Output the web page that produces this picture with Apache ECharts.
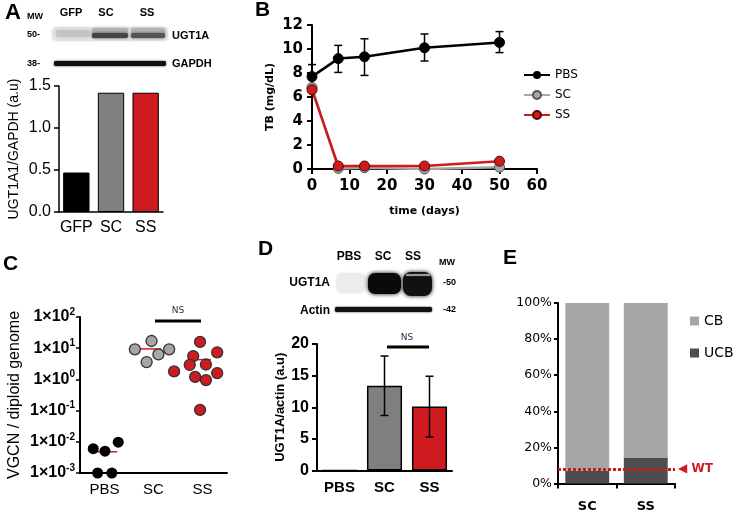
<!DOCTYPE html>
<html>
<head>
<meta charset="utf-8">
<script src="https://cdn.jsdelivr.net/npm/echarts@6/dist/echarts.min.js"></script>
<style>
html, body { margin: 0; padding: 0; background: #fff; }
#main { width: 736px; height: 514px; }
</style>
</head>
<body>
<div id="main"></div>
<script>
// A - western blot quantification
var aCats = ['GFP', 'SC', 'SS'];
var aRatio = [0.47, 1.42, 1.42];

// B - total bilirubin over time
var bDays = [0, 7, 14, 30, 50];
var bPBS = [7.7, 9.2, 9.35, 10.1, 10.55];
var bPBSLow = [6.7, 8.05, 7.8, 9.0, 9.7];
var bPBSHigh = [8.7, 10.3, 10.85, 11.25, 11.45];
var bSC = [6.8, 0.05, 0.1, 0.0, 0.15];
var bSS = [6.6, 0.25, 0.25, 0.25, 0.65];

// C - vector genome copies (x = jitter position, 0..3)
var cCats = ['PBS', 'SC', 'SS'];
var cPBS = [0.006, 0.005, 0.0097, 0.001, 0.001];
var cPBSx = [0.27, 0.51, 0.78, 0.36, 0.65];
var cSC = [9.2, 17, 6.3, 9.2, 3.6];
var cSCx = [1.12, 1.46, 1.60, 1.82, 1.36];
var cSS = [16, 7.4, 5.6, 2.9, 3.0, 1.8, 1.2, 1.6, 0.95, 0.105];
var cSSx = [2.45, 2.80, 2.31, 2.24, 2.57, 1.92, 2.35, 2.80, 2.57, 2.45];
var cMedian = [0.0048, 9.5, 4.3];
var cMedianX = [0.55, 1.45, 2.46];

// D - UGT1A/actin
var dCats = ['PBS', 'SC', 'SS'];
var dRatio = [0, 13.4, 10.1];
var dErr = [0, 4.7, 4.8];

// E - bilirubin fractions
var eCats = ['SC', 'SS'];
var eUCB = [7, 14.4];
var eCB = [93, 85.6];
var eWT = 8.1;

var RED = '#cf1b20';
var GREY = '#7f7f7f';
var ARIAL = 'Liberation Sans';
var DEJA = 'DejaVu Sans';

var myChart = echarts.init(document.getElementById('main'));

function axisLineStyle(w) {
    return { show: true, lineStyle: { color: '#000', width: w } };
}

// vertical error bar with caps
function errorBar(params, api) {
    var x = api.value(0);
    var top = api.coord([x, api.value(2)]);
    var bot = api.coord([x, api.value(1)]);
    var w = 4;
    var st = { stroke: '#000', lineWidth: 1.5 };
    return {
        type: 'group',
        children: [
            { type: 'line', shape: { x1: top[0], y1: top[1], x2: bot[0], y2: bot[1] }, style: st },
            { type: 'line', shape: { x1: top[0] - w, y1: top[1], x2: top[0] + w, y2: top[1] }, style: st },
            { type: 'line', shape: { x1: bot[0] - w, y1: bot[1], x2: bot[0] + w, y2: bot[1] }, style: st }
        ]
    };
}

// median line in panel C
var medianHalf = 0.21;
function medianLine(params, api) {
    var x = api.value(0), v = api.value(1);
    var p1 = api.coord([x - medianHalf, v]);
    var p2 = api.coord([x + medianHalf, v]);
    return {
        type: 'line',
        shape: { x1: p1[0], y1: p1[1], x2: p2[0], y2: p2[1] },
        style: { stroke: RED, lineWidth: 1.5 }
    };
}

function band(x, y, w, h, color, blur) {
    return {
        type: 'rect',
        shape: { x: x, y: y, width: w, height: h, r: h / 3 },
        style: { fill: color, shadowBlur: blur, shadowColor: color }
    };
}
function txt(x, y, s, size, align, weight, color) {
    return {
        type: 'text', x: x, y: y,
        style: {
            text: s, fontSize: size, fontFamily: ARIAL, fontWeight: weight || 'bold',
            fill: color || '#000', align: align || 'center', verticalAlign: 'middle'
        }
    };
}

var option = {
    animation: false,
    backgroundColor: '#fff',
    grid: [
        { left: 59, top: 86, width: 104, height: 126 },
        { left: 312, top: 25, width: 225, height: 144 },
        { left: 80, top: 317, width: 147, height: 156 },
        { left: 317, top: 344, width: 135, height: 126.5 },
        { left: 558, top: 303, width: 117, height: 180.5 }
    ],
    legend: [
        {
            data: ['PBS', 'SC', 'SS'],
            orient: 'vertical', left: 523, top: 69, padding: 0,
            itemWidth: 26, itemHeight: 10, itemGap: 8,
            textStyle: { fontFamily: DEJA, fontSize: 12, color: '#000' }
        },
        {
            data: ['CB', 'UCB'],
            orient: 'vertical', left: 690, top: 314, padding: 0,
            icon: 'rect', itemWidth: 9, itemHeight: 9, itemGap: 18,
            textStyle: { fontFamily: DEJA, fontSize: 14, color: '#000' }
        }
    ],
    xAxis: [
        {   // A
            gridIndex: 0, type: 'category', data: aCats,
            axisLine: axisLineStyle(1.5), axisTick: { show: false },
            axisLabel: { color: '#000', fontSize: 16, fontFamily: ARIAL, margin: 8, interval: 0 }
        },
        {   // B
            gridIndex: 1, type: 'value', min: 0, max: 60, interval: 10,
            axisLine: axisLineStyle(2),
            axisTick: { show: true, length: 5, lineStyle: { color: '#000', width: 2 } },
            splitLine: { show: false },
            axisLabel: { color: '#000', fontSize: 15, fontFamily: DEJA, fontWeight: 'bold', margin: 10 },
            name: 'time (days)', nameLocation: 'middle', nameGap: 37,
            nameTextStyle: { fontSize: 11, fontFamily: DEJA, fontWeight: 'bold', color: '#000' }
        },
        {   // C categories
            gridIndex: 2, type: 'category', data: cCats,
            axisLine: axisLineStyle(2), axisTick: { show: false },
            axisLabel: { color: '#000', fontSize: 15, fontFamily: ARIAL, margin: 9, interval: 0 }
        },
        {   // C jitter axis
            gridIndex: 2, type: 'value', min: 0, max: 3, show: false
        },
        {   // D
            gridIndex: 3, type: 'category', data: dCats,
            axisLine: axisLineStyle(2), axisTick: { show: false },
            axisLabel: { color: '#000', fontSize: 15, fontFamily: ARIAL, fontWeight: 'bold', margin: 10, interval: 0 }
        },
        {   // E
            gridIndex: 4, type: 'category', data: eCats,
            axisLine: axisLineStyle(2),
            axisTick: { show: true, length: 5, lineStyle: { color: '#000', width: 2 } },
            axisLabel: { color: '#000', fontSize: 13, fontFamily: DEJA, fontWeight: 'bold', margin: 17, interval: 0 }
        }
    ],
    yAxis: [
        {   // A
            gridIndex: 0, type: 'value', min: 0, max: 1.5, interval: 0.5,
            axisLine: axisLineStyle(1.5),
            axisTick: { show: true, length: 5, lineStyle: { color: '#000', width: 1.5 } },
            splitLine: { show: false },
            axisLabel: { color: '#000', fontSize: 16, fontFamily: ARIAL, margin: 8,
                formatter: function (v) { return v.toFixed(1); } },
            name: 'UGT1A1/GAPDH (a.u)', nameLocation: 'middle', nameGap: 38,
            nameTextStyle: { fontSize: 14, fontFamily: ARIAL, color: '#000' }
        },
        {   // B
            gridIndex: 1, type: 'value', min: 0, max: 12, interval: 2,
            axisLine: axisLineStyle(2),
            axisTick: { show: true, length: 5, lineStyle: { color: '#000', width: 2 } },
            splitLine: { show: false },
            axisLabel: { color: '#000', fontSize: 15, fontFamily: DEJA, fontWeight: 'bold', margin: 9 },
            name: 'TB (mg/dL)', nameLocation: 'middle', nameGap: 36,
            nameTextStyle: { fontSize: 11, fontFamily: DEJA, fontWeight: 'bold', color: '#000' }
        },
        {   // C
            gridIndex: 2, type: 'log', logBase: 10, min: 0.001, max: 100, splitNumber: 5,
            axisLine: axisLineStyle(2),
            axisTick: { show: true, length: 4, lineStyle: { color: '#000', width: 1.5 } },
            minorTick: { show: false },
            splitLine: { show: false },
            axisLabel: {
                margin: 5,
                formatter: function (v) {
                    var e = Math.round(Math.log(v) / Math.LN10);
                    return '{b|1×10}{s|' + e + '}';
                },
                rich: {
                    b: { fontSize: 16, fontFamily: ARIAL, fontWeight: 'bold', color: '#000', lineHeight: 20 },
                    s: { fontSize: 10, fontFamily: ARIAL, fontWeight: 'bold', color: '#000', verticalAlign: 'top', padding: [0, 0, 6, 0] }
                }
            },
            name: 'VGCN / diploid genome', nameLocation: 'middle', nameGap: 57,
            nameTextStyle: { fontSize: 16, fontFamily: ARIAL, color: '#000' }
        },
        {   // D
            gridIndex: 3, type: 'value', min: 0, max: 20, interval: 5,
            axisLine: axisLineStyle(2),
            axisTick: { show: true, length: 5, lineStyle: { color: '#000', width: 2 } },
            splitLine: { show: false },
            axisLabel: { color: '#000', fontSize: 16, fontFamily: ARIAL, fontWeight: 'bold', margin: 8 },
            name: 'UGT1A/actin (a.u)', nameLocation: 'middle', nameGap: 28,
            nameTextStyle: { fontSize: 13, fontFamily: ARIAL, fontWeight: 'bold', color: '#000' }
        },
        {   // E
            gridIndex: 4, type: 'value', min: 0, max: 100, interval: 20,
            axisLine: axisLineStyle(2),
            axisTick: { show: true, length: 4, lineStyle: { color: '#000', width: 2 } },
            splitLine: { show: false },
            axisLabel: { color: '#000', fontSize: 12.5, fontFamily: DEJA, margin: 6, formatter: '{value}%' }
        }
    ],
    series: [
        // A
        {
            type: 'bar', xAxisIndex: 0, yAxisIndex: 0, barWidth: '76%',
            data: aRatio.map(function (v, i) {
                return { value: v, itemStyle: { color: ['#000', GREY, RED][i] } };
            }),
            itemStyle: { borderColor: '#000', borderWidth: 1 }
        },
        // B
        {
            type: 'custom', xAxisIndex: 1, yAxisIndex: 1, renderItem: errorBar, z: 1,
            data: bDays.map(function (d, i) { return [d, bPBSLow[i], bPBSHigh[i]]; })
        },
        {
            name: 'PBS', type: 'line', xAxisIndex: 1, yAxisIndex: 1,
            symbol: 'circle', symbolSize: 10,
            lineStyle: { color: '#000', width: 2.5 },
            itemStyle: { color: '#000', borderColor: '#000' },
            data: bDays.map(function (d, i) { return [d, bPBS[i]]; })
        },
        {
            name: 'SC', type: 'line', xAxisIndex: 1, yAxisIndex: 1,
            symbol: 'circle', symbolSize: 10,
            lineStyle: { color: '#a6a6a6', width: 2.5 },
            itemStyle: { color: '#a6a6a6', borderColor: '#555', borderWidth: 1 },
            data: bDays.map(function (d, i) { return [d, bSC[i]]; })
        },
        {
            name: 'SS', type: 'line', xAxisIndex: 1, yAxisIndex: 1,
            symbol: 'circle', symbolSize: 10,
            lineStyle: { color: RED, width: 2.5 },
            itemStyle: { color: RED, borderColor: '#5a0000', borderWidth: 1 },
            data: bDays.map(function (d, i) { return [d, bSS[i]]; })
        },
        // C
        {
            type: 'custom', xAxisIndex: 3, yAxisIndex: 2, renderItem: medianLine, z: 1,
            data: cMedian.map(function (v, i) { return [cMedianX[i], v]; })
        },
        {
            type: 'scatter', xAxisIndex: 3, yAxisIndex: 2, symbolSize: 11, clip: false,
            itemStyle: { color: '#000', opacity: 1 },
            data: cPBS.map(function (v, i) { return [cPBSx[i], v]; })
        },
        {
            type: 'scatter', xAxisIndex: 3, yAxisIndex: 2, symbolSize: 11, clip: false,
            itemStyle: { color: '#a6a6a6', borderColor: '#333', borderWidth: 1.3, opacity: 1 },
            data: cSC.map(function (v, i) { return [cSCx[i], v]; })
        },
        {
            type: 'scatter', xAxisIndex: 3, yAxisIndex: 2, symbolSize: 11, clip: false,
            itemStyle: { color: RED, borderColor: '#333', borderWidth: 1.3, opacity: 1 },
            data: cSS.map(function (v, i) { return [cSSx[i], v]; })
        },
        // D
        {
            type: 'bar', xAxisIndex: 4, yAxisIndex: 3, barWidth: '78%',
            data: dRatio.map(function (v, i) {
                return { value: v, itemStyle: { color: [GREY, GREY, RED][i] } };
            }),
            itemStyle: { borderColor: '#000', borderWidth: 1.5 }
        },
        {
            type: 'custom', xAxisIndex: 4, yAxisIndex: 3, renderItem: errorBar, z: 5,
            data: dRatio.map(function (v, i) { return [i, v - dErr[i], v + dErr[i]]; })
                .filter(function (d, i) { return dErr[i] > 0; })
        },
        // E
        {
            name: 'UCB', type: 'bar', stack: 'e', xAxisIndex: 5, yAxisIndex: 4, barWidth: '75%',
            itemStyle: { color: '#4d4d4d' },
            data: eUCB,
            markLine: {
                silent: true, symbol: ['none', 'none'], z: 10,
                lineStyle: { color: RED, type: [3, 2], width: 3 },
                label: {
                    show: true, position: 'end', distance: 3, formatter: '◀ WT',
                    color: RED, fontFamily: DEJA, fontWeight: 'bold', fontSize: 12
                },
                data: [{ yAxis: eWT }]
            }
        },
        {
            name: 'CB', type: 'bar', stack: 'e', xAxisIndex: 5, yAxisIndex: 4, barWidth: '75%',
            itemStyle: { color: '#a6a6a6' },
            data: eCB
        }
    ],
    graphic: [
        // panel letters
        txt(5, 13, 'A', 22, 'left'),
        txt(255, 10, 'B', 21, 'left'),
        txt(3, 264, 'C', 21, 'left'),
        txt(258, 249, 'D', 21, 'left'),
        txt(503, 258, 'E', 21, 'left'),

        // A blot
        band(52, 27, 116, 14, '#e4e4e4', 3),
        band(56, 30, 34, 7, '#c4c4c4', 4),
        band(92, 28, 36, 6, '#b0b0b0', 3),
        band(92, 33, 36, 5, '#444', 3),
        band(131, 28, 34, 6, '#b4b4b4', 3),
        band(131, 33, 34, 5, '#555', 3),
        band(54, 61, 112, 5, '#111', 2),
        txt(35, 17, 'MW', 9),
        txt(71, 13, 'GFP', 11),
        txt(106, 13, 'SC', 11),
        txt(147, 13, 'SS', 11),
        txt(27, 35, '50-', 9, 'left'),
        txt(27, 64, '38-', 9, 'left'),
        txt(172, 36, 'UGT1A', 11, 'left'),
        txt(172, 64, 'GAPDH', 11, 'left'),

        // C significance bar
        { type: 'line', shape: { x1: 155, y1: 321, x2: 201, y2: 321 }, style: { stroke: '#000', lineWidth: 3 } },
        { type: 'text', x: 178, y: 311, style: { text: 'NS', fontSize: 9, fontFamily: DEJA, fill: '#1f2a44', align: 'center', verticalAlign: 'middle' } },

        // D blot
        band(336, 273, 30, 20, '#ececec', 3),
        band(368, 273, 33, 21, '#0a0a0a', 4),
        band(403, 272, 29, 24, '#111', 4),
        band(406, 274, 24, 2, '#999', 1),
        band(335, 307, 97, 5, '#111', 2),
        txt(349, 257, 'PBS', 12),
        txt(383, 257, 'SC', 12),
        txt(413, 257, 'SS', 12),
        txt(447, 263, 'MW', 9),
        txt(330, 283, 'UGT1A', 12, 'right'),
        txt(330, 311, 'Actin', 12, 'right'),
        txt(443, 283, '-50', 9, 'left'),
        txt(443, 310, '-42', 9, 'left'),

        // D significance bar
        { type: 'line', shape: { x1: 387, y1: 347, x2: 429, y2: 347 }, style: { stroke: '#000', lineWidth: 3 } },
        { type: 'text', x: 407, y: 338, style: { text: 'NS', fontSize: 9, fontFamily: DEJA, fill: '#1f2a44', align: 'center', verticalAlign: 'middle' } }
    ]
};

myChart.setOption(option);
</script>
</body>
</html>
